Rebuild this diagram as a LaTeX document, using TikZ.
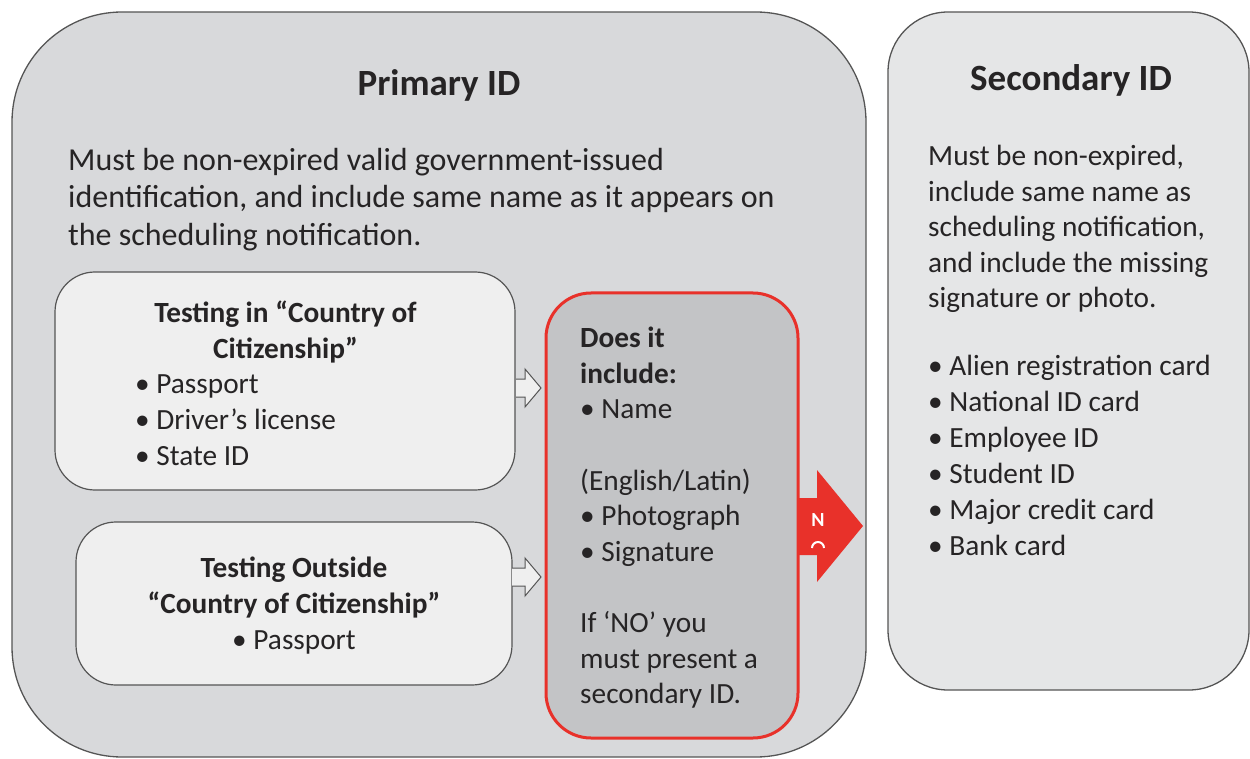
\documentclass[tikz,border=0pt]{standalone}
\usepackage{fontspec}
\setmainfont{Carlito}
\definecolor{primfill}{HTML}{D8D9DB}
\definecolor{secfill}{HTML}{E5E6E7}
\definecolor{innerfill}{HTML}{EFEFEF}
\definecolor{qfill}{HTML}{C3C4C6}
\definecolor{boxline}{HTML}{555555}
\definecolor{idred}{HTML}{E8312A}
\definecolor{txt}{HTML}{262425}
\begin{document}
\begin{tikzpicture}[x=1pt,y=-1pt,
  bigbox/.style={draw=boxline, line width=1.3pt},
  innerbox/.style={draw=boxline, line width=1.2pt, fill=innerfill, rounded corners=40},
  qbox/.style={draw=idred, line width=3pt, fill=qfill, rounded corners=45},
  hollowarrow/.style={draw=boxline, line width=1pt, fill=innerfill},
  title/.style={font=\bfseries\fontsize{37}{42}\selectfont, text=txt, inner sep=0},
  body/.style={font=\fontsize{29.3}{36}\selectfont, text=txt, inner sep=0, align=left},
  bodyc/.style={font=\fontsize{29.3}{36}\selectfont, text=txt, inner sep=0, align=center},
]
\useasboundingbox (0,0) rectangle (1250,759);
% main boxes
\draw[bigbox, fill=primfill, rounded corners=110] (12,12) rectangle (866,757);
\draw[bigbox, fill=secfill, rounded corners=60] (888,12) rectangle (1249,690);
\path (12,12) rectangle (866,757) node[midway, inner sep=0, minimum size=0] (primary) {};
% titles
\node[title, anchor=base] (ptitle) at (439,96) {Primary ID};
\node[title, anchor=base] (stitle) at (1071,91) {Secondary ID};
% primary description
\node[body, anchor=north west, font=\fontsize{32}{37.5}\selectfont] (pdesc) at (68,148)
  {Must be non-expired valid government-issued\\identification, and include same name as it appears on\\the scheduling notification.};
% secondary description
\node[body, anchor=north west, font=\fontsize{29.3}{35.5}\selectfont] (sdesc) at (928,145)
  {Must be non-expired,\\include same name as\\scheduling notification,\\and include the missing\\signature or photo.\\[32.5pt]%
   • Alien registration card\\[0.5pt]• National ID card\\[0.5pt]• Employee ID\\[0.5pt]• Student ID\\[0.5pt]• Major credit card\\[0.5pt]• Bank card};
% inner boxes
\draw[innerbox] (55,272) rectangle (515,490);
\path (55,272) rectangle (515,490) node[midway, inner sep=0] (box1) {};
\draw[innerbox] (76,522) rectangle (512,685);
\path (76,522) rectangle (512,685) node[midway, inner sep=0] (box2) {};
\node[bodyc, anchor=north, font=\bfseries\fontsize{29.3}{35.5}\selectfont] (b1title) at (285.5,301)
  {Testing in “Country of\\Citizenship”};
\node[body, anchor=north west] (b1list) at (135,374)
  {• Passport\\• Driver’s license\\• State ID};
\node[bodyc, anchor=north] (b2text) at (294,557)
  {\textbf{Testing Outside}\\\textbf{“Country of Citizenship”}\\• Passport};
% question box
\draw[qbox] (546,293) rectangle (798,738);
\path (546,293) rectangle (798,738) node[midway, inner sep=0] (qbox) {};
\node[body, anchor=north west, font=\fontsize{29.3}{35.6}\selectfont] (qtext) at (580,327)
  {\textbf{Does it}\\\textbf{include:}\\• Name\\[35.6pt](English/Latin)\\• Photograph\\• Signature\\[35.6pt]If ‘NO’ you\\must present a\\secondary ID.};
% hollow arrows
\coordinate (a1) at (516,388);
\draw[hollowarrow] (a1) ++(0,-9) -- ++(9,0) -- ++(0,-10) -- (541,388) -- (525,407) -- (525,397) -- (516,397);
\coordinate (a2) at (512,577);
\draw[hollowarrow] (a2) ++(0,-9) -- ++(13,0) -- ++(0,-10) -- (541,577) -- (525,596) -- (525,586) -- (512,586);
% red arrow
\coordinate (r0) at (797,526);
\fill[idred] (r0) ++(0,-28) -- (817,498) -- (817,470) -- (863,526) -- (817,582) -- (817,555) -- (797,555) -- cycle;
\node[font=\bfseries\fontsize{20}{20}\selectfont, text=white, inner sep=0] (nlabel) at (818,520) {N};
\draw[white, line width=2pt] (812,548) arc[start angle=180, end angle=360, radius=6];
\end{tikzpicture}
\end{document}
